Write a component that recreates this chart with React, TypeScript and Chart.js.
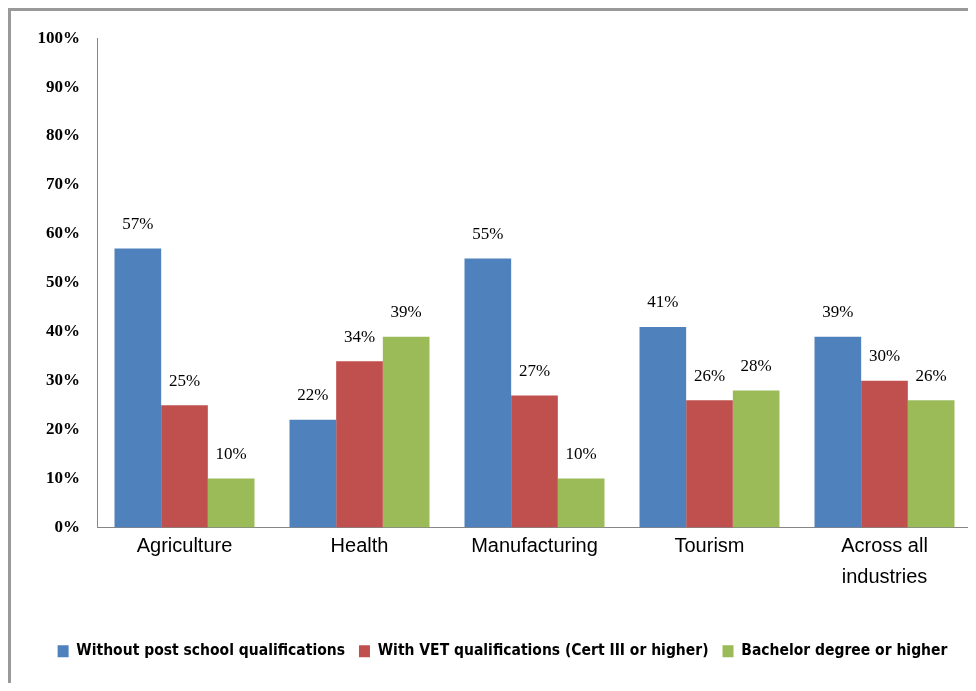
import React, { useEffect, useRef } from "react";
import { Chart, registerables } from "chart.js";

Chart.register(...registerables);

const categories: (string | string[])[] = [
  "Agriculture",
  "Health",
  "Manufacturing",
  "Tourism",
  ["Across all", "industries"],
];
const withoutPostSchool = [57, 22, 55, 41, 39];
const withVET = [25, 34, 27, 26, 30];
const bachelor = [10, 39, 10, 28, 26];
const seriesNames = [
  "Without post school qualifications",
  "With VET qualifications (Cert III or higher)",
  "Bachelor degree or higher",
];
const seriesColors = ["#4F81BD", "#C0504D", "#9BBB59"];

const labelPlugin = {
  id: "barLabels",
  afterDatasetsDraw(chart: any) {
    const ctx = chart.ctx;
    ctx.save();
    ctx.font = "17px 'Liberation Serif'";
    ctx.fillStyle = "#000";
    ctx.textAlign = "center";
    ctx.textBaseline = "middle";
    chart.data.datasets.forEach((ds: any, i: number) => {
      const meta = chart.getDatasetMeta(i);
      meta.data.forEach((el: any, j: number) => {
        ctx.fillText(ds.data[j] + "%", el.x, el.y - 24);
      });
    });
    ctx.restore();
  },
};

export default function App() {
  const ref = useRef<HTMLCanvasElement>(null);
  useEffect(() => {
    if (!ref.current) return;
    const chart = new Chart(ref.current, {
      type: "bar",
      data: {
        labels: categories,
        datasets: [withoutPostSchool, withVET, bachelor].map((d, i) => ({
          label: seriesNames[i],
          data: d,
          backgroundColor: seriesColors[i],
          borderWidth: 0,
          categoryPercentage: 0.8,
          barPercentage: 1.0,
        })),
      },
      options: {
        animation: false,
        responsive: true,
        maintainAspectRatio: false,
        layout: { padding: { top: 27, right: 4, bottom: 14, left: 22 } },
        plugins: {
          tooltip: { enabled: false },
          legend: {
            position: "bottom",
            labels: {
              boxWidth: 11,
              boxHeight: 12,
              padding: 14,
              color: "#000",
              font: { family: "'DejaVu Sans Condensed', 'Liberation Sans'", size: 15.5, weight: "bold" },
            },
          },
        },
        scales: {
          x: {
            grid: { display: false, drawTicks: false },
            border: { display: true, color: "#868686", width: 1 },
            ticks: {
              color: "#000",
              padding: 3,
              maxRotation: 0,
              font: { family: "'Liberation Sans'", size: 20, lineHeight: 1.55 },
            },
            afterFit(scale: any) {
              scale.height = 102;
            },
          },
          y: {
            min: 0,
            max: 100,
            grid: { display: false, drawTicks: false },
            border: { display: true, color: "#868686", width: 1 },
            ticks: {
              stepSize: 10,
              color: "#000",
              padding: 17,
              font: { family: "'Liberation Serif'", size: 17, weight: "bold" },
              callback: (v: any) => v + "%",
            },
            afterFit(scale: any) {
              scale.width = 64;
            },
          },
        },
      },
      plugins: [labelPlugin],
    });
    return () => chart.destroy();
  }, []);
  return (
    <div
      style={{
        width: 968,
        height: 675,
        boxSizing: "border-box",
        borderTop: "3px solid #999",
        borderLeft: "3px solid #999",
        background: "#fff",
      }}
    >
      <div style={{ width: 965, height: 672, position: "relative" }}>
        <canvas ref={ref} />
      </div>
    </div>
  );
}
